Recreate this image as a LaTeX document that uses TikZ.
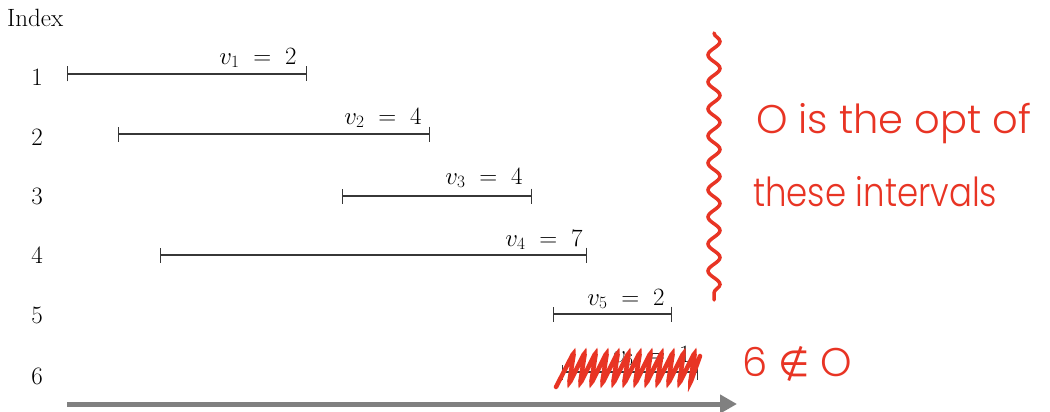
\documentclass[tikz,border=0pt]{standalone}
\usepackage{fontspec}
\newfontfamily\hand{Poppins Light}
\newfontfamily\symf{DejaVu Sans}
\usetikzlibrary{arrows.meta,decorations.pathmorphing}
\definecolor{pen}{RGB}{232,52,36}
\definecolor{axis}{RGB}{128,128,128}
\definecolor{ink}{RGB}{55,55,55}
\begin{document}
\begin{tikzpicture}[x=1pt,y=-1pt,
  lbl/.style={font=\fontsize{25}{28}\selectfont, inner sep=0pt},
  ival/.style={draw=ink, line width=1.4pt, {Bar[width=15pt]}-{Bar[width=15pt]}},
  vlab/.style={font=\fontsize{23}{26}\selectfont, inner sep=0pt},
  hw/.style={text=pen, font=\hand\fontsize{40}{44}\selectfont, inner sep=0pt, anchor=west}]
\useasboundingbox (0,0) rectangle (1050,412);
\node[lbl, anchor=west] (idx) at (7,18) {Index};
\foreach \i/\y in {1/77,2/137,3/196,4/255,5/315,6/376}
  \node[lbl] (r\i) at (37,\y) {\i};
% intervals
\coordinate (s1) at (67,74);  \coordinate (e1) at (307,74);
\coordinate (s2) at (118,134); \coordinate (e2) at (430,134);
\coordinate (s3) at (342,196); \coordinate (e3) at (532,196);
\coordinate (s4) at (160,255); \coordinate (e4) at (587,255);
\coordinate (s5) at (553,314); \coordinate (e5) at (672,314);
\coordinate (s6) at (562,372); \coordinate (e6) at (698,372);
\foreach \i in {1,...,6} \draw[ival] (s\i) -- (e\i);
\node[vlab] (v1) at (258,58) {$v_1\;=\;2$};
\node[vlab] (v2) at (383,118) {$v_2\;=\;4$};
\node[vlab] (v3) at (484,178) {$v_3\;=\;4$};
\node[vlab] (v4) at (544,240) {$v_4\;=\;7$};
\node[vlab] (v5) at (626,299) {$v_5\;=\;2$};
\node[vlab] (v6) at (652,356) {$v_6\;=\;1$};
% axis arrow
\coordinate (ax0) at (67,404);
\coordinate (ax1) at (737,404);
\draw[axis, line width=5pt, -{Triangle[length=17pt,width=18pt]}] (ax0) -- (ax1);
% scribble over row 6
\draw[pen, line width=4.5pt, rounded corners=3pt, line cap=round]
  (556,387) \foreach \k in {0,...,11} { -- ({574+11*\k},352) -- ({569+11*\k},384) } -- (700,356);
% wavy brace
\coordinate (w0) at (714,33);
\coordinate (w1) at (714,300);
\draw[pen, line width=3.5pt, line cap=round, decorate,
  decoration={snake, amplitude=6pt, segment length=27pt}] (w0) -- (w1);
% handwritten notes
\node[hw] (n1) at (756,124) {O is the opt of};
\node[hw, xscale=0.85] (n2) at (753,192) {these intervals};
\node[hw] (n3) at (742,364) {6 {\symf\fontsize{36}{40}\selectfont ∉} O};
\end{tikzpicture}
\end{document}
